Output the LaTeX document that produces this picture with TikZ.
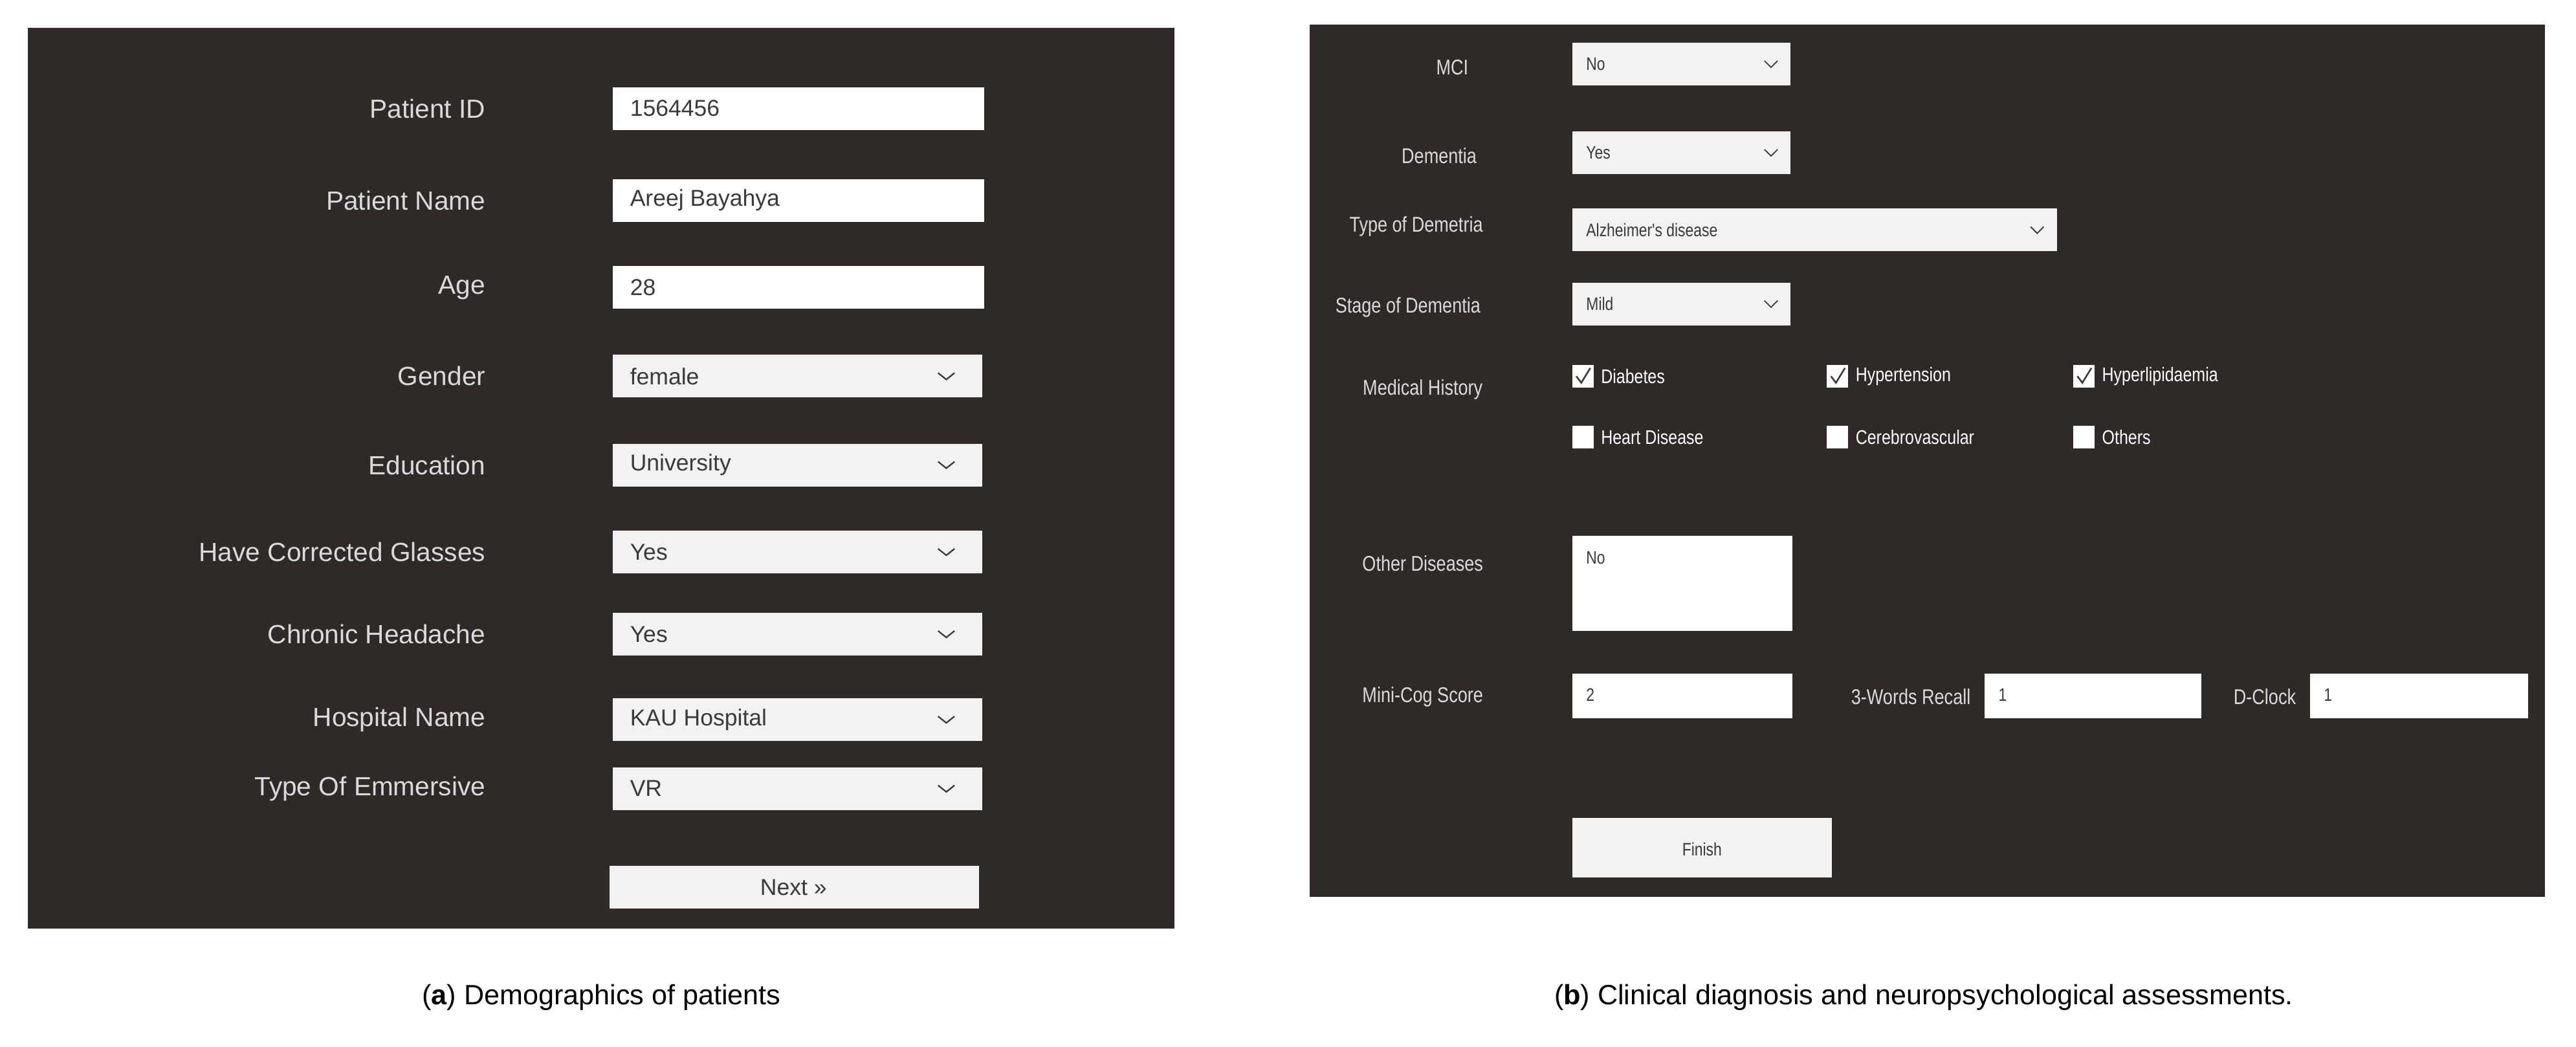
\documentclass[tikz,border=0pt]{standalone}
\usepackage{fontspec}
\setmainfont{Liberation Sans}
\newfontfamily\narrowfont[FakeStretch=0.82]{Liberation Sans}
\begin{document}
\begin{tikzpicture}[x=1pt,y=-1pt,
  panel/.style={fill=bgdark,draw=none},
  lab/.style={anchor=east,text=labgray,font=\fontsize{16}{16}\selectfont},
  rlab/.style={text=labgray,font=\narrowfont\fontsize{13}{13}\selectfont},
  fieldtxt/.style={anchor=west,text=txtgray,font=\fontsize{14}{14}\selectfont},
  rtxt/.style={anchor=west,text=txtgray,font=\narrowfont\fontsize{11}{11}\selectfont},
  chk/.style={anchor=west,text=white,font=\narrowfont\fontsize{12}{12}\selectfont},
  captext/.style={font=\rmfamily\fontsize{17}{17}\selectfont}]
\definecolor{bgdark}{HTML}{2F2A28}
\definecolor{labgray}{HTML}{DADADA}
\definecolor{txtgray}{HTML}{3A3A3A}
\definecolor{fld}{HTML}{F2F2F2}
\useasboundingbox (0,0) rectangle (1568,637);
\fill[white] (0,0) rectangle (1568,637);
% left panel
\fill[panel] (17,17) rectangle (715,565);
\newcommand{\lrow}[4]{% y, label, value, dropdown(1/0)
  \node[lab] at (299,#1) {#2};
  \ifnum#4=1
    \fill[fld] (373,#1-13) rectangle (598,#1+13);
    \draw[txtgray,line width=0.9] (571,#1-2) -- (576,#1+2) -- (581,#1-2);
  \else
    \fill[white] (373,#1-13) rectangle (599,#1+13);
  \fi
  \node[fieldtxt] at (380,#1) {#3};}
\lrow{66}{Patient ID}{1564456}{0}
\lrow{122}{Patient Name}{Areej Bayahya}{0}
\lrow{175}{Age}{28}{0}
\lrow{229}{Gender}{female}{1}
\lrow{283}{Education}{University}{1}
\lrow{336}{Have Corrected Glasses}{Yes}{1}
\lrow{386}{Chronic Headache}{Yes}{1}
\lrow{438}{Hospital Name}{KAU Hospital}{1}
\lrow{480}{Type Of Emmersive}{VR}{1}
\fill[fld] (371,527) rectangle (596,553);
\node[text=txtgray,font=\fontsize{14}{14}\selectfont] (next) at (483,540) {Next >>};
% right panel
\fill[panel] (797,15) rectangle (1549,546);
\newcommand{\combo}[4]{% x1,x2,y,text
  \fill[fld] (#1,#3-13) rectangle (#2,#3+13);
  \draw[txtgray,line width=0.7] (#2-16,#3-2) -- (#2-12,#3+2) -- (#2-8,#3-2);
  \node[rtxt] at (#1+5,#3) {#4};}
\node[rlab] at (884,41) {MCI};
\combo{957}{1090}{39}{No}
\node[rlab] at (876,95) {Dementia};
\combo{957}{1090}{93}{Yes}
\node[rlab] at (862,138) {Type of Demetria};
\combo{957}{1252}{140}{Alzheimer's disease}
\node[rlab] at (857,187) {Stage of Dementia};
\combo{957}{1090}{185}{Mild}
\node[rlab] at (866,237) {Medical History};
\newcommand{\cbox}[4]{% x,y,label,checked
  \fill[white] (#1,#2-7) rectangle (#1+13,#2+7);
  \ifnum#4=1 \draw[txtgray,line width=1] (#1+2.5,#2) -- (#1+5.5,#2+4) -- (#1+11,#2-5); \fi
  \node[chk] at (#1+14,#2) {#3};}
\cbox{957}{229}{Diabetes}{1}
\cbox{1112}{229}{Hypertension}{1}
\cbox{1262}{229}{Hyperlipidaemia}{1}
\cbox{957}{266}{Heart Disease}{0}
\cbox{1112}{266}{Cerebrovascular}{0}
\cbox{1262}{266}{Others}{0}
\node[rlab] at (866,343) {Other Diseases};
\fill[white] (957,326) rectangle (1091,384);
\node[rtxt,anchor=north west] at (962,332) {No};
\node[rlab] at (866,424) {Mini-Cog Score};
\fill[white] (957,410) rectangle (1091,437);
\node[rtxt] at (962,423) {2};
\node[rlab,anchor=east] at (1203,424) {3-Words Recall};
\fill[white] (1208,410) rectangle (1340,437);
\node[rtxt] at (1213,423) {1};
\node[rlab,anchor=east] at (1401,424) {D-Clock};
\fill[white] (1406,410) rectangle (1539,437);
\node[rtxt] at (1411,423) {1};
\fill[fld] (957,498) rectangle (1115,534);
\node[rtxt,anchor=center] (finish) at (1036,517) {Finish};
% captions
\node[captext] (capa) at (366,607) {(\textbf{a}) Demographics of patients};
\node[captext] (capb) at (1171,607) {(\textbf{b}) Clinical diagnosis and neuropsychological assessments.};
\end{tikzpicture}
\end{document}
